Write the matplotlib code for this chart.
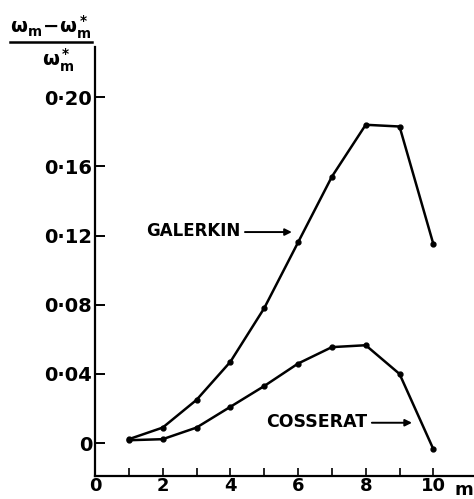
import matplotlib
matplotlib.use("Agg")
import matplotlib.pyplot as plt
from matplotlib.lines import Line2D

m = [1, 2, 3, 4, 5, 6, 7, 8, 9, 10]
galerkin = [0.0023, 0.009, 0.025, 0.047, 0.078, 0.116, 0.154, 0.184, 0.183, 0.115]
cosserat = [0.0017, 0.0023, 0.009, 0.021, 0.033, 0.046, 0.0555, 0.0566, 0.040, -0.0035]

yticks = [0, 0.04, 0.08, 0.12, 0.16, 0.20]
ylabels = ["0", "0·04", "0·08", "0·12", "0·16", "0·20"]
xticks = [0, 2, 4, 6, 8, 10]
xlabels = ["0", "2", "4", "6", "8", "10"]

plt.rcParams["font.family"] = "DejaVu Sans"
plt.rcParams["font.weight"] = "bold"
plt.rcParams["mathtext.default"] = "bf"

fig = plt.figure(figsize=(4.74, 4.99), dpi=100)
ax = fig.add_axes([0.2004, 0.046, 0.7996, 0.86])

ax.plot(m, galerkin, color="black", lw=1.8, marker="o", ms=3.5)
ax.plot(m, cosserat, color="black", lw=1.8, marker="o", ms=3.5)

ax.set_xlim(0, 11.2)
ax.set_ylim(-0.019, 0.229)

ax.spines["top"].set_visible(False)
ax.spines["right"].set_visible(False)
ax.spines["left"].set_linewidth(1.6)
ax.spines["bottom"].set_linewidth(1.6)

ax.set_xticks(xticks)
ax.set_xticklabels(xlabels, fontsize=13, fontweight="bold")
ax.set_xticks(m, minor=True)
ax.set_yticks(yticks)
ax.set_yticklabels(ylabels, fontsize=14, fontweight="bold")
ax.tick_params(axis="x", which="both", direction="in", length=6, width=1.2, pad=1)
ax.tick_params(axis="y", direction="in", length=7, width=1.4, pad=2)

ax.text(10.62, -0.012, "m", fontsize=13, fontweight="bold", ha="left", va="top",
        transform=ax.get_xaxis_transform())

# curve labels with arrows
ax.annotate("", xy=(5.9, 0.122), xytext=(4.35, 0.122),
            arrowprops=dict(arrowstyle="-|>", color="black", lw=1.4, mutation_scale=10))
ax.text(4.3, 0.1225, "GALERKIN", fontsize=12, fontweight="bold", ha="right", va="center")
ax.annotate("", xy=(9.45, 0.0118), xytext=(8.1, 0.0118),
            arrowprops=dict(arrowstyle="-|>", color="black", lw=1.4, mutation_scale=10))
ax.text(8.05, 0.012, "COSSERAT", fontsize=12.5, fontweight="bold", ha="right", va="center")

# axis label as a fraction
fig.text(51 / 474, 1 - 27 / 499, r"$\omega_m\!-\!\omega_m^*$", fontsize=14,
         ha="center", va="center")
fig.add_artist(Line2D([10 / 474, 92 / 474], [1 - 42 / 499, 1 - 42 / 499],
                      color="black", lw=1.8, transform=fig.transFigure))
fig.text(58 / 474, 1 - 60 / 499, r"$\omega_m^*$", fontsize=14,
         ha="center", va="center")

fig.savefig("out.png", dpi=100)
